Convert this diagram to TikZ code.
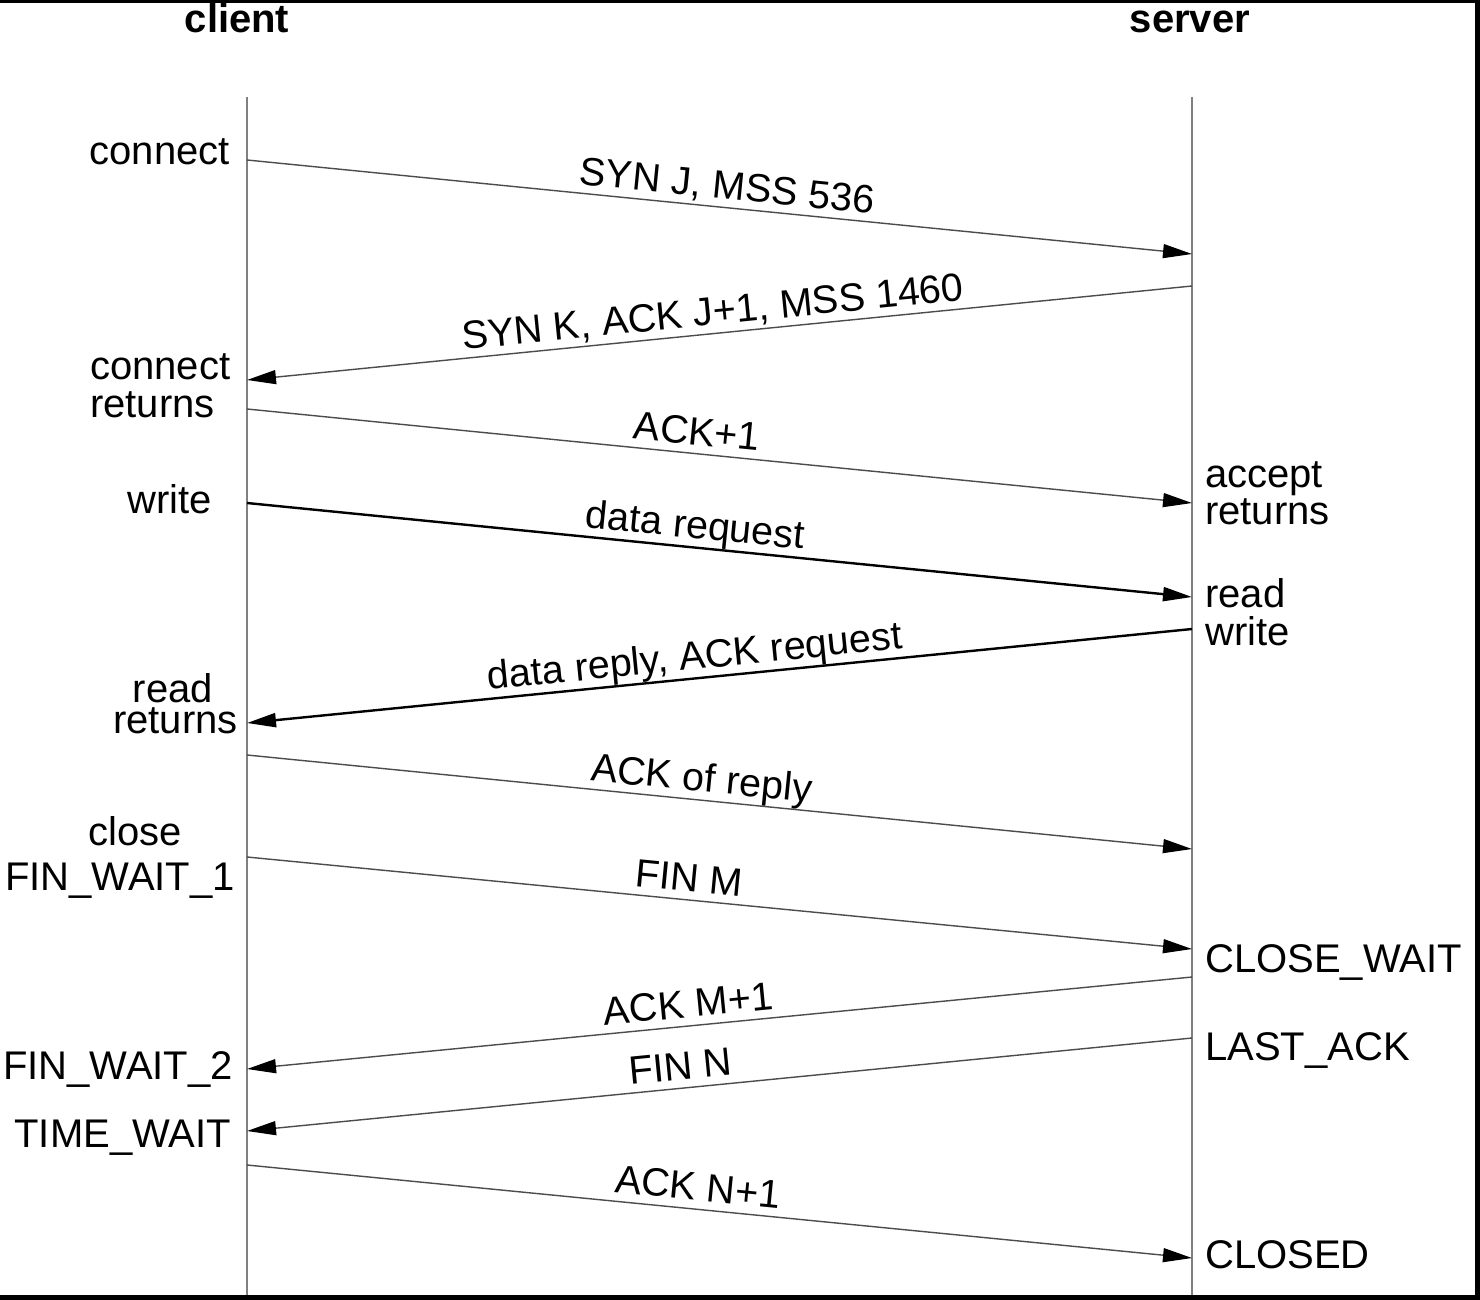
\documentclass[tikz,border=0pt]{standalone}
\usepackage{fontspec}
\setmainfont{Liberation Sans}
\usetikzlibrary{arrows.meta}
\begin{document}
\begin{tikzpicture}[x=1pt,y=-1pt,
  lifeline/.style={draw=black!50, line width=1.8pt},
  msg/.style={draw=black!70, line width=1.4pt, -{Triangle[length=29pt,width=14pt,black]}},
  msgbold/.style={draw=black, line width=2.4pt, -{Triangle[length=29pt,width=14pt,black]}},
  msglabel/.style={sloped, anchor=south, text depth=0pt, inner xsep=0pt, inner ysep=8pt, font=\fontsize{39.5}{39.5}\selectfont},
  side/.style={inner sep=0pt, font=\fontsize{40}{40}\selectfont},
  head/.style={inner sep=0pt, font=\fontsize{40}{40}\selectfont\bfseries}]
\useasboundingbox (0,0) rectangle (1480,1300);
\fill[white] (0,0) rectangle (1480,1300);
% frame
\fill[black] (0,0) rectangle (1480,3);
\fill[black] (1475,0) rectangle (1480,1300);
\fill[black] (0,1295) rectangle (1480,1300);
% headers
\node[head, anchor=base] (hclient) at (237,33) {client};
\node[head, anchor=base] (hserver) at (1190,33) {server};
% lifelines
\coordinate (ctop) at (247,97);
\coordinate (cbot) at (247,1295);
\coordinate (stop) at (1192,97);
\coordinate (sbot) at (1192,1295);
\draw[lifeline] (ctop) -- (cbot);
\draw[lifeline] (stop) -- (sbot);
% message endpoints
\coordinate (c1) at (247,160);  \coordinate (s1) at (1192,254);
\coordinate (s2) at (1192,286); \coordinate (c2) at (247,380);
\coordinate (c3) at (247,409);  \coordinate (s3) at (1192,503);
\coordinate (c4) at (247,503);  \coordinate (s4) at (1192,597);
\coordinate (s5) at (1192,629); \coordinate (c5) at (247,723);
\coordinate (c6) at (247,755);  \coordinate (s6) at (1192,849);
\coordinate (c7) at (247,857);  \coordinate (s7) at (1192,949);
\coordinate (s8) at (1192,977); \coordinate (c8) at (247,1069);
\coordinate (s9) at (1192,1038);\coordinate (c9) at (247,1131);
\coordinate (c10) at (247,1165);\coordinate (s10) at (1192,1258);
% messages
\draw[msg] (c1) -- node[msglabel, pos=0.506] (m1) {SYN J, MSS 536} (s1);
\draw[msg] (s2) -- node[msglabel, pos=0.505] (m2) {SYN K, ACK J+1, MSS 1460} (c2);
\draw[msg] (c3) -- node[msglabel, pos=0.474] (m3) {ACK+1} (s3);
\draw[msgbold] (c4) -- node[msglabel, pos=0.472] (m4) {data request} (s4);
\draw[msgbold] (s5) -- node[msglabel, pos=0.524] (m5) {data reply, ACK request} (c5);
\draw[msg] (c6) -- node[msglabel, pos=0.479] (m6) {ACK of reply} (s6);
\draw[msg] (c7) -- node[msglabel, pos=0.466] (m7) {FIN M} (s7);
\draw[msg] (s8) -- node[msglabel, pos=0.531] (m8) {ACK M+1} (c8);
\draw[msg] (s9) -- node[msglabel, pos=0.539] (m9) {FIN N} (c9);
\draw[msg] (c10) -- node[msglabel, pos=0.475] (m10) {ACK N+1} (s10);
% client side labels
\node[side, anchor=base east] (lconnect) at (230,165) {connect};
\node[side, anchor=base west] (lconnret1) at (90,379) {connect};
\node[side, anchor=base west] (lconnret2) at (90,417) {returns};
\node[side, anchor=base east] (lwrite) at (212,513) {write};
\node[side, anchor=base east] (lread) at (213,702) {read};
\node[side, anchor=base east] (lreadret) at (238,733) {returns};
\node[side, anchor=base east] (lclose) at (182,845) {close};
\node[side, anchor=base east] (lfw1) at (235,890) {FIN\_WAIT\_1};
\node[side, anchor=base east] (lfw2) at (233,1079) {FIN\_WAIT\_2};
\node[side, anchor=base east] (ltw) at (231,1147) {TIME\_WAIT};
% server side labels
\node[side, anchor=base west] (raccept) at (1205,487) {accept};
\node[side, anchor=base west] (racceptret) at (1205,524) {returns};
\node[side, anchor=base west] (rread) at (1205,607) {read};
\node[side, anchor=base west] (rwrite) at (1205,645) {write};
\node[side, anchor=base west] (rcw) at (1205,972) {CLOSE\_WAIT};
\node[side, anchor=base west] (rla) at (1205,1060) {LAST\_ACK};
\node[side, anchor=base west] (rclosed) at (1205,1268) {CLOSED};
\end{tikzpicture}
\end{document}
